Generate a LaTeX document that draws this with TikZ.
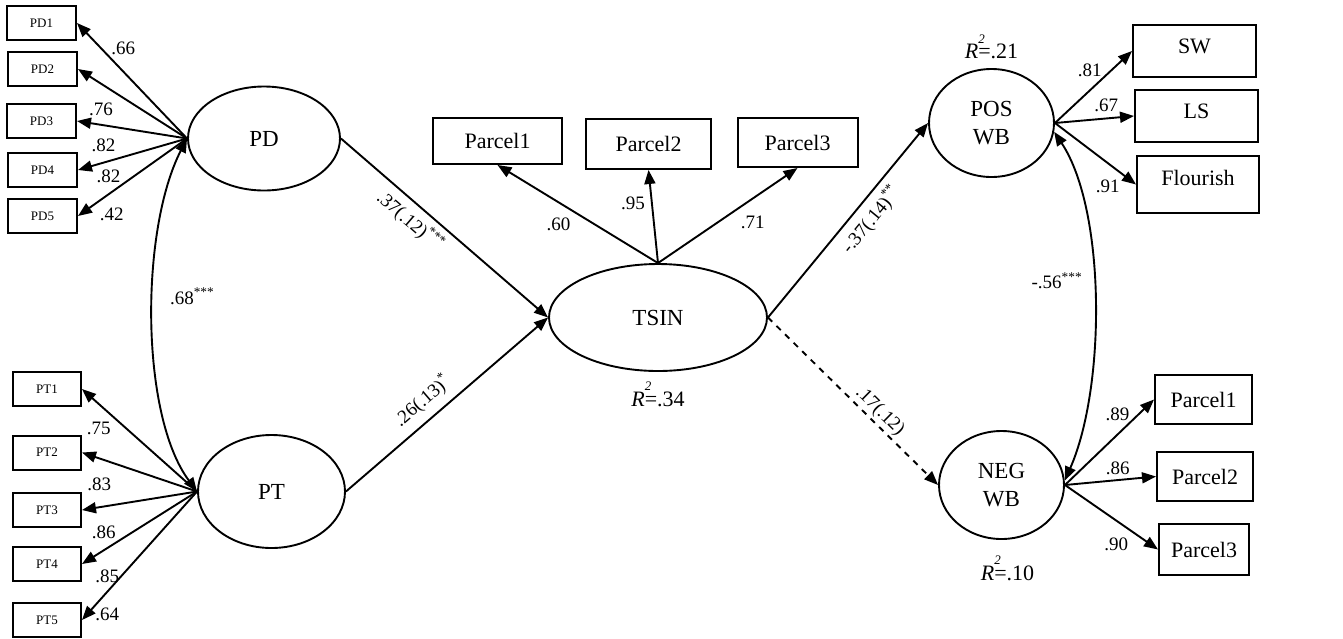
\documentclass[tikz,border=0pt]{standalone}
\usepackage{fontspec}
\setmainfont{Liberation Serif}
\usetikzlibrary{arrows.meta, positioning, shapes.geometric}

\newcommand{\rsq}[1]{\textit{R}\rlap{\raisebox{7.6pt}{\fontsize{6.5}{7}\selectfont\textit{2}}}=#1}

\tikzset{
    latent/.style={ellipse, draw, line width=0.95pt, inner sep=0pt, align=center, font=\fontsize{11.5}{14}\selectfont},
    ind/.style={rectangle, draw, line width=1pt, minimum width=34.5pt, minimum height=17pt, inner sep=0pt, font=\fontsize{6.5}{7}\selectfont},
    obs/.style={rectangle, draw, line width=1pt, minimum width=62pt, minimum height=24pt, inner sep=0pt, font=\fontsize{11}{13}\selectfont},
    load/.style={->, line width=0.95pt},
    reg/.style={->, line width=0.95pt},
    cov/.style={<->, line width=0.95pt},
    lab/.style={font=\fontsize{9.5}{10}\selectfont, inner sep=1pt},
    coef/.style={font=\fontsize{9.5}{11}\selectfont, inner sep=1pt, sloped},
    r2/.style={font=\fontsize{11}{12}\selectfont, inner sep=1pt}
}

\begin{document}
\begin{tikzpicture}[x=0.5pt, y=-0.5pt, >={Triangle[length=7pt, width=5.5pt]}]

    \useasboundingbox (0,0) rectangle (1343,638);

    % Latent variables
    \node[latent, minimum width=76pt, minimum height=52pt] (pd) at (264,138.5) {PD};
    \node[latent, minimum width=73.5pt, minimum height=56.5pt] (pt) at (271.5,491.5) {PT};
    \node[latent, minimum width=109pt, minimum height=53.5pt] (tsin) at (658,317.5) {TSIN};
    \node[latent, minimum width=62.5pt, minimum height=54pt] (pos) at (991.5,123) {POS\\WB};
    \node[latent, minimum width=62.5pt, minimum height=54pt] (neg) at (1001.5,485) {NEG\\WB};

    % PD indicators
    \node[ind] (pd1) at (41.5,23) {PD1};
    \node[ind] (pd2) at (42.5,69) {PD2};
    \node[ind] (pd3) at (41.5,121) {PD3};
    \node[ind] (pd4) at (42.5,170) {PD4};
    \node[ind] (pd5) at (42.5,216) {PD5};

    % PT indicators
    \node[ind, minimum width=34pt] (pt1) at (47,389) {PT1};
    \node[ind, minimum width=34pt] (pt2) at (47,452.5) {PT2};
    \node[ind, minimum width=34pt] (pt3) at (47,510) {PT3};
    \node[ind, minimum width=34pt] (pt4) at (47,564) {PT4};
    \node[ind, minimum width=34pt] (pt5) at (47,620) {PT5};

    % TSIN parcels
    \node[obs, minimum width=64.5pt, minimum height=23pt] (tp1) at (497.5,141) {Parcel1};
    \node[obs, minimum width=62.5pt, minimum height=25pt] (tp2) at (648.5,144) {Parcel2};
    \node[obs, minimum width=60pt, minimum height=24.5pt] (tp3) at (797.5,142.5) {Parcel3};

    % Positive well-being indicators
    \node[obs, minimum width=61.5pt, minimum height=26pt, text depth=4.5pt] (sw) at (1194.5,51) {SW};
    \node[obs, minimum width=61.5pt, minimum height=26pt, text depth=4.5pt] (ls) at (1196.5,116) {LS};
    \node[obs, minimum width=61pt, minimum height=28.5pt, text depth=7pt] (fl) at (1198,184.5) {Flourish};

    % Negative well-being parcels
    \node[obs, minimum width=48.5pt, minimum height=24.5pt] (np1) at (1203.5,399.5) {Parcel1};
    \node[obs, minimum width=48pt, minimum height=24.5pt] (np2) at (1205,476.5) {Parcel2};
    \node[obs, minimum width=45pt, minimum height=25.5pt] (np3) at (1204,549.5) {Parcel3};

    % R squared
    \node[r2, below=4pt of tsin] (r2tsin) {\rsq{.34}};
    \node[r2, above=3.5pt of pos] (r2pos) {\rsq{.21}};
    \node[r2, below=7pt of neg, xshift=3pt] (r2neg) {\rsq{.10}};

    % Loadings PD
    \draw[load] (pd.west) -- (pd1.east) node[lab, pos=.58, above=7pt] {.66};
    \draw[load] (pd.west) -- (pd2.east) node[lab, pos=.79, below=8pt] {.76};
    \draw[load] (pd.west) -- (pd3.east) node[lab, pos=.76, below=5.5pt] {.82};
    \draw[load] (pd.west) -- (pd4.east) node[lab, pos=.72, below=3pt] {.82};
    \draw[load] (pd.west) -- (pd5.east) node[lab, pos=.69, below=6.5pt] {.42};

    % Loadings PT
    \draw[load] (pt.west) -- (pt1.east) node[lab, pos=.855, below=7.5pt] {.75};
    \draw[load] (pt.west) -- (pt2.east) node[lab, pos=.85, below=8.5pt] {.83};
    \draw[load] (pt.west) -- (pt3.east) node[lab, pos=.81, below=8pt] {.86};
    \draw[load] (pt.west) -- (pt4.east) node[lab, pos=.78, below=9.5pt] {.85};
    \draw[load] (pt.west) -- (pt5.east) node[lab, pos=.78, below=6.5pt] {.64};

    % Loadings TSIN
    \draw[load] (tsin.north) -- (tp1.south) node[lab, pos=.62, below=6.5pt] {.60};
    \draw[load] (tsin.north) -- (tp2.south) node[lab, pos=.64, left=2pt] {.95};
    \draw[load] (tsin.north) -- (tp3.south) node[lab, pos=.68, below=7.5pt] {.71};

    % Loadings POS WB
    \draw[load] (pos.east) -- (sw.west) node[lab, pos=.45, above=5.5pt] {.81};
    \draw[load] (pos.east) -- (ls.west) node[lab, pos=.65, above=2pt] {.67};
    \draw[load] (pos.east) -- (fl.west) node[lab, pos=.65, below=7pt] {.91};

    % Loadings NEG WB
    \draw[load] (neg.east) -- (np1.west) node[lab, pos=.59, above=5.5pt] {.89};
    \draw[load] (neg.east) -- (np2.west) node[lab, pos=.58, above=1pt] {.86};
    \draw[load] (neg.east) -- (np3.west) node[lab, pos=.55, below=7pt] {.90};

    % Structural paths
    \draw[reg] (pd.east) -- (tsin.west) node[coef, pos=.39, below=2pt] {.37(.12)\textsuperscript{***}};
    \draw[reg] (pt.east) -- (tsin.west) node[coef, pos=.44, above=3pt] {.26(.13)\textsuperscript{*}};
    \draw[reg] (tsin.east) -- (pos.west) node[coef, pos=.56, below=2pt] {-.37(.14)\textsuperscript{**}};
    \draw[reg, dashed] (tsin.east) -- (neg.west) node[coef, pos=.61, above] {.17(.12)};

    % Correlations
    \draw[cov] (pd.west) .. controls (140,230) and (140,415) .. (pt.west)
        node[lab, pos=.44, right=7pt] {.68\textsuperscript{***}};
    \draw[cov] (pos.-8) .. controls (1106,210) and (1106,387) .. (neg.4)
        node[lab, pos=.45, left=4pt] {-.56\textsuperscript{***}};

\end{tikzpicture}
\end{document}
